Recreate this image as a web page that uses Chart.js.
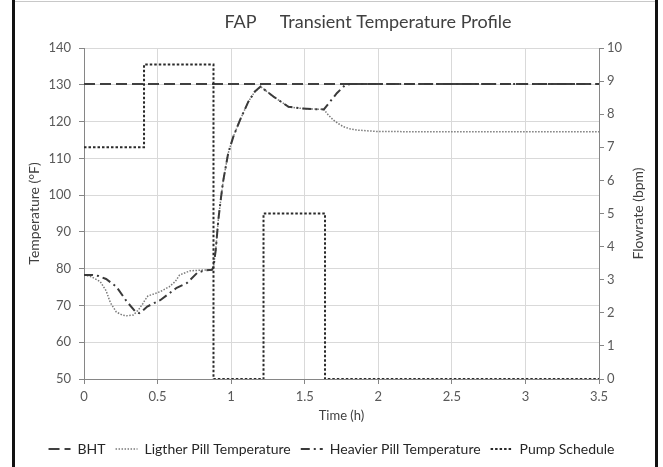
<!DOCTYPE html>
<html>
<head>
<meta charset="utf-8">
<script src="https://cdn.jsdelivr.net/npm/chart.js@4/dist/chart.umd.min.js"></script>
<style>
html,body{margin:0;padding:0;background:#fff;}
#wrap{position:relative;width:663px;height:467px;}
canvas{display:block;}
</style>
</head>
<body>
<div id="wrap"><canvas id="c" width="663" height="467"></canvas></div>
<script>
// ---- data ----
const chartTitle = 'FAP     Transient Temperature Profile';
const xTicks = [0, 0.5, 1, 1.5, 2, 2.5, 3, 3.5];

const bhtTime = [0, 3.5];
const bhtTemp = [130.2, 130.2];

const lightTime = [0, 0.05, 0.11, 0.15, 0.18, 0.22, 0.26, 0.29, 0.335, 0.37, 0.4, 0.415, 0.435, 0.48, 0.52, 0.58, 0.62, 0.65, 0.72, 0.8, 0.87, 0.88, 0.895, 0.913, 0.93, 0.947, 0.98, 1.015, 1.06, 1.117, 1.16, 1.2, 1.287, 1.39, 1.468, 1.55, 1.63, 1.66, 1.695, 1.73, 1.763, 1.81, 1.853, 1.92, 1.99, 2.1, 2.24, 2.5, 3.0, 3.5];
const lightTemp = [78.3, 77.8, 76.5, 74.0, 70.7, 68.2, 67.4, 67.2, 67.4, 68.8, 70.5, 71.5, 72.6, 73.2, 73.8, 75.1, 76.5, 78.3, 79.4, 79.6, 79.7, 80.5, 85.0, 93.3, 99.0, 104.1, 111.4, 115.9, 120.4, 125.4, 128.1, 129.5, 126.8, 124.0, 123.6, 123.4, 123.3, 121.8, 120.4, 119.4, 118.6, 118.0, 117.7, 117.5, 117.3, 117.3, 117.2, 117.2, 117.2, 117.2];

const heavyTime = [0, 0.06, 0.1, 0.15, 0.22, 0.29, 0.35, 0.375, 0.4, 0.43, 0.52, 0.63, 0.7, 0.77, 0.82, 0.87, 0.88, 0.895, 0.913, 0.93, 0.947, 0.98, 1.015, 1.06, 1.117, 1.16, 1.2, 1.287, 1.39, 1.468, 1.55, 1.63, 1.672, 1.718, 1.774, 1.81, 3.5];
const heavyTemp = [78.3, 78.3, 78.0, 77.2, 75.1, 71.1, 68.3, 67.9, 68.6, 69.7, 71.5, 74.8, 76.1, 78.9, 79.5, 79.7, 80.5, 85.0, 93.3, 99.0, 104.1, 111.4, 115.9, 120.4, 125.4, 128.1, 129.5, 126.8, 124.0, 123.6, 123.4, 123.3, 125.4, 127.7, 129.9, 130.2, 130.2];

const pumpTime = [0, 0.408, 0.408, 0.88, 0.88, 1.22, 1.22, 1.638, 1.638, 3.5];
const pumpRate = [7, 7, 9.5, 9.5, 0, 0, 5, 5, 0, 0];

const toXY = (xs, ys) => xs.map((x, i) => ({x: x, y: ys[i]}));

const FONT = 'Lato, "Open Sans", sans-serif';
const TICK_COLOR = '#595959';

const framePlugin = {
  id: 'frame',
  afterDraw(chart) {
    const ctx = chart.ctx;
    ctx.save();
    ctx.strokeStyle = '#c8c8c8';
    ctx.lineWidth = 1;
    ctx.beginPath();
    ctx.moveTo(13, 1.5); ctx.lineTo(657, 1.5);
    ctx.stroke();
    ctx.strokeStyle = '#111';
    ctx.lineWidth = 3;
    ctx.beginPath();
    ctx.moveTo(13.5, 0); ctx.lineTo(13.5, 467);
    ctx.moveTo(656.5, 0); ctx.lineTo(656.5, 467);
    ctx.stroke();
    // chart title
    ctx.fillStyle = '#404040';
    ctx.font = '18px ' + FONT;
    ctx.textAlign = 'center';
    ctx.textBaseline = 'middle';
    ctx.fillText(chartTitle, 368, 22);
    // right axis title, reading bottom to top
    const a = chart.chartArea;
    ctx.font = '14px ' + FONT;
    ctx.translate(638, (a.top + a.bottom) / 2);
    ctx.rotate(-Math.PI / 2);
    ctx.fillText('Flowrate (bpm)', 0, 0);
    ctx.restore();
  }
};

new Chart(document.getElementById('c'), {
  type: 'line',
  data: {
    datasets: [
      {label: 'BHT', data: toXY(bhtTime, bhtTemp), yAxisID: 'y',
       borderColor: '#404040', borderWidth: 2, borderDash: [11, 5], pointRadius: 0, order: 2},
      {label: 'Ligther Pill Temperature', data: toXY(lightTime, lightTemp), yAxisID: 'y',
       borderColor: '#7a7a7a', borderWidth: 1.5, borderDash: [1.5, 1.5], pointRadius: 0, order: 3},
      {label: 'Heavier Pill Temperature', data: toXY(heavyTime, heavyTemp), yAxisID: 'y',
       borderColor: '#3a3a3a', borderWidth: 2, borderDash: [9, 4, 2, 4], pointRadius: 0, order: 1},
      {label: 'Pump Schedule', data: toXY(pumpTime, pumpRate), yAxisID: 'y1',
       borderColor: '#2a2a2a', borderWidth: 2, borderDash: [2.5, 2], pointRadius: 0, order: 0}
    ]
  },
  options: {
    responsive: false,
    animation: false,
    layout: {padding: {left: 0, right: 0, top: 48, bottom: 1}},
    plugins: {
      title: {display: false},
      legend: {display: true, position: 'bottom',
        labels: {usePointStyle: true, pointStyle: 'line', pointStyleWidth: 22, boxWidth: 22,
                 color: '#262626', font: {family: FONT, size: 14}, padding: 10,
                 generateLabels(chart) {
                   return chart.data.datasets.map((ds, i) => ({
                     text: ds.label, fillStyle: ds.borderColor, strokeStyle: ds.borderColor,
                     lineWidth: ds.borderWidth, lineDash: ds.borderDash, pointStyle: 'line',
                     hidden: false, datasetIndex: i, fontColor: '#262626'
                   }));
                 }}},
      tooltip: {enabled: false}
    },
    scales: {
      x: {type: 'linear', min: 0, max: 3.5,
        afterBuildTicks(s) { s.ticks = xTicks.map(v => ({value: v})); },
        afterFit(s) { s.height = 53; },
        grid: {color: '#d9d9d9', tickColor: '#868686', tickLength: 5},
        border: {color: '#868686'},
        ticks: {color: TICK_COLOR, font: {family: FONT, size: 13}, padding: 5, maxRotation: 0,
                callback: v => String(v)},
        title: {display: true, text: 'Time (h)', color: '#404040', font: {family: FONT, size: 13}, padding: {top: 2, bottom: 8}}
      },
      y: {position: 'left', min: 50, max: 140,
        afterFit(s) { s.width = 84; },
        grid: {color: '#d9d9d9', tickColor: '#868686', tickLength: 5},
        border: {color: '#868686'},
        ticks: {stepSize: 10, color: TICK_COLOR, font: {family: FONT, size: 13}, padding: 8},
        title: {display: true, text: 'Temperature (°F)', color: '#404040', font: {family: FONT, size: 14}, padding: {top: 26}}
      },
      y1: {position: 'right', min: 0, max: 10,
        afterFit(s) { s.width = 64; },
        grid: {drawOnChartArea: false, tickColor: '#868686', tickLength: 5},
        border: {color: '#868686'},
        ticks: {stepSize: 1, color: TICK_COLOR, font: {family: FONT, size: 13}, padding: 3}
      }
    }
  },
  plugins: [framePlugin]
});
</script>
</body>
</html>
